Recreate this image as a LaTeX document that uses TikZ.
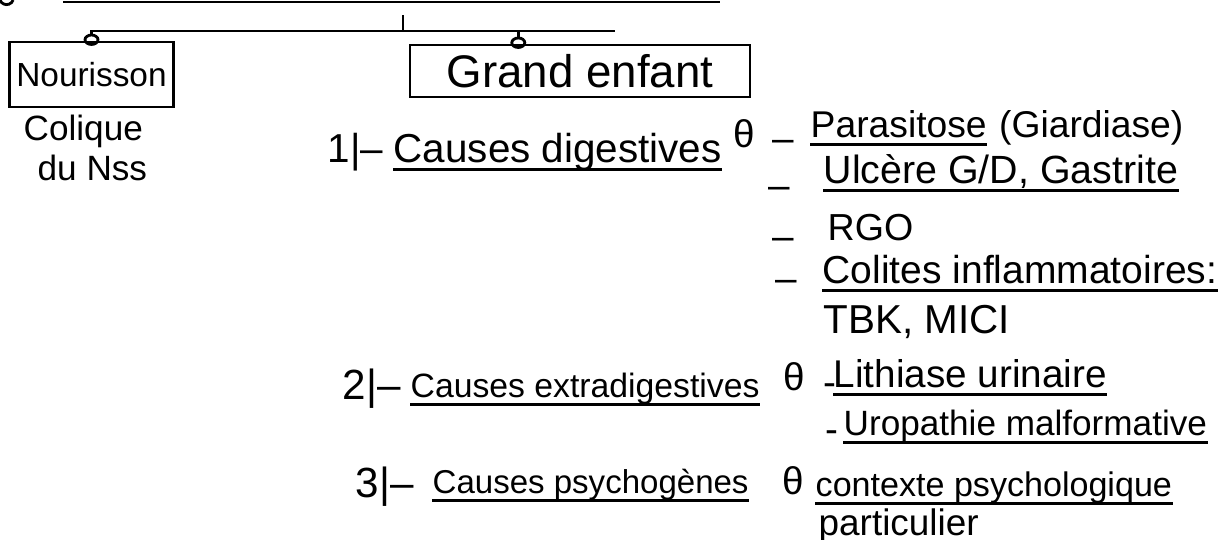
\documentclass[tikz,border=0pt]{standalone}
\usepackage{fontspec}
\setmainfont{Liberation Sans}
\usetikzlibrary {positioning}
\usetikzlibrary{arrows.meta}
\usetikzlibrary{calc}

\tikzset{
	cadre/.style={draw, line width=0.8pt, inner sep=2pt},
	ecrit/.style={inner sep=0pt, anchor=base west, text depth=0.35ex, font=\fontsize{#1}{#1}\selectfont},
	ecrit/.default=10.5,
	trait/.style={line width=0.8pt},
	boucle/.style={-{Circle[open, length=3.5pt, width=4.5pt]}},
}

\begin{document}
\begin{tikzpicture}[scale=1]
		\useasboundingbox (0,0) rectangle (12.29,-5.39);

		% Define the coordinates of the points
		\coordinate (titre g) at (0.63,-0.02);
		\coordinate (titre d) at (7.20,-0.02);
		\coordinate (pic) at (4.03,-0.15);
		\coordinate (jonc) at (4.03,-0.31);
		\coordinate (fin) at (6.15,-0.31);

		% The two age groups
		\node[cadre, minimum width=1.63cm, minimum height=0.65cm, font=\fontsize{9.5}{9.5}\selectfont] (nour) at (0.915,-0.745) {Nourisson};
		\node[cadre, minimum width=3.40cm, minimum height=0.52cm, font=\fontsize{13}{13}\selectfont] (grand) at (5.80,-0.71) {Grand enfant};
		\coordinate (accroche) at ($(grand.north west)!0.32!(grand.north east)$);

		\node[ecrit=10] (coliq) at (0.23,-1.40) {Colique};
		\node[ecrit=10] (nss) at (0.37,-1.80) {du Nss};

		% Causes
		\node[ecrit=11.5] (num1) at (3.27,-1.62) {1|–};
		\node[ecrit=11.5] (cause1) at (3.93,-1.62) {Causes digestives};
		\node[ecrit=12] (num2) at (3.42,-3.99) {2|–};
		\node[ecrit=9.6] (cause2) at (4.10,-3.97) {Causes extradigestives};
		\node[ecrit=12] (num3) at (3.55,-4.97) {3|–};
		\node[ecrit=9.4] (cause3) at (4.32,-4.93) {Causes psychogènes};

		\foreach \point/\x/\y in {th1/7.33/1.47, th2/7.83/3.90, th3/7.82/4.94}
		\node[ecrit=11] (\point) at (\x,-\y) {θ};

		% Digestive causes
		\foreach \point/\x/\y/\label in {d1/7.72/1.51/–, d2/7.68/1.98/–, d3/7.72/2.49/–, d4/7.75/2.91/–, d5/8.23/3.95/-, d6/8.25/4.42/-}
		\node[ecrit=11] (\point) at (\x,-\y) {\label};

		\node[ecrit=10.6] (para) at (8.10,-1.37) {Parasitose};
		\node[ecrit=10.6, base right=0.11cm of para] (giard) {(Giardiase)};
		\node[ecrit=11.2] (ulc) at (8.23,-1.83) {Ulcère G/D, Gastrite};
		\node[ecrit=10.7] (rgo) at (8.27,-2.40) {RGO};
		\node[ecrit=11.1] (colit) at (8.22,-2.83) {Colites inflammatoires:};
		\node[ecrit=11.5] (tbk) at (8.23,-3.33) {TBK, MICI};

		% Other causes
		\node[ecrit=11] (lith) at (8.33,-3.87) {Lithiase urinaire};
		\node[ecrit=10] (urop) at (8.43,-4.35) {Uropathie malformative};
		\node[ecrit=9.7] (ctx) at (8.15,-4.96) {contexte psychologique};
		\node[ecrit=10.5] (part) at (8.18,-5.35) {particulier};

		% Draw the lines
		\draw[trait] (titre g) -- (titre d);
		\draw[trait] (0,0) arc[start angle=200, end angle=340, radius=0.07];
		\draw[trait] (pic) -- (jonc) -- (fin);
		\draw[trait, boucle] (jonc) -| ([yshift=-1.5pt]nour.north);
		\draw[trait, boucle] (jonc) -| ([yshift=-1.5pt]accroche);

		\foreach \point in {cause1, cause2, cause3, para, ulc, colit, lith, urop, ctx}
		\draw[trait] (\point.south west) -- (\point.south east);
		\draw[trait] ($(part.south west)!0.39!(part.south east)$) -- ($(part.south west)!0.68!(part.south east)$);
     \end{tikzpicture}
\end{document}
